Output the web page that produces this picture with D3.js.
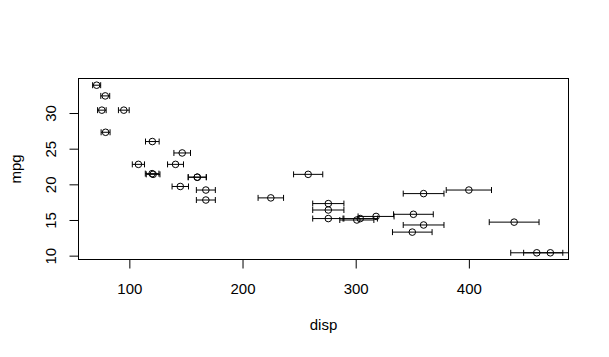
<!DOCTYPE html>
<html><head><meta charset="utf-8">
<script src="https://cdn.jsdelivr.net/npm/d3@7"></script>
<style>body{margin:0;background:#fff}svg{display:block}text{font-family:"Liberation Sans",Arial,sans-serif;font-size:15px;fill:#000}</style>
</head><body>
<script>
const disp = [160,160,108,258,360,225,360,146.7,140.8,167.6,167.6,275.8,275.8,275.8,472,460,440,78.7,75.7,71.1,120.1,318,304,350,400,79,120.3,95.1,351,145,301,121];
const mpg = [21.0,21.0,22.8,21.4,18.7,18.1,14.3,24.4,22.8,19.2,17.8,16.4,17.3,15.2,10.4,10.4,14.7,32.4,30.4,33.9,21.5,15.5,15.2,13.3,19.2,27.3,26.0,30.4,15.8,19.7,15.0,21.4];
const dispErr = [8,8,5.4,12.9,18,11.25,18,7.34,7.04,8.38,8.38,13.79,13.79,13.79,23.6,23,22,3.94,3.79,3.56,6.01,15.9,15.2,17.5,20,3.95,6.02,4.76,17.55,7.25,15.05,6.05];
const xTicks = [100,200,300,400];
const yTicks = [10,15,20,25,30];

const W = 609, H = 357;
const L = 78.5, R = 568.5, T = 78.5, B = 259.5;
const svg = d3.select("body").append("svg").attr("width", W).attr("height", H);

const xe = d3.extent(disp), ye = d3.extent(mpg);
const xp = 0.04 * (xe[1] - xe[0]), yp = 0.04 * (ye[1] - ye[0]);
const x = d3.scaleLinear().domain([xe[0] - xp, xe[1] + xp]).range([L, R]);
const y = d3.scaleLinear().domain([ye[0] - yp, ye[1] + yp]).range([B, T]);

svg.append("clipPath").attr("id", "clip").append("rect")
  .attr("x", L).attr("y", T).attr("width", R - L).attr("height", B - T);

const g = svg.append("g").attr("clip-path", "url(#clip)")
  .attr("stroke", "#000").attr("stroke-width", 1).attr("fill", "none");

const cap = 3;
disp.forEach((d, i) => {
  const cy = y(mpg[i]);
  const x0 = x(d - dispErr[i]), x1 = x(d + dispErr[i]);
  g.append("line").attr("x1", x0).attr("x2", x1).attr("y1", cy).attr("y2", cy);
  g.append("line").attr("x1", x0).attr("x2", x0).attr("y1", cy - cap).attr("y2", cy + cap);
  g.append("line").attr("x1", x1).attr("x2", x1).attr("y1", cy - cap).attr("y2", cy + cap);
});
svg.append("g").attr("stroke", "#000").attr("fill", "none")
  .selectAll("circle").data(disp).join("circle")
  .attr("cx", d => x(d)).attr("cy", (d, i) => y(mpg[i])).attr("r", 3.3);

svg.append("rect").attr("x", L).attr("y", T).attr("width", R - L).attr("height", B - T)
  .attr("fill", "none").attr("stroke", "#000");

const xAxis = d3.axisBottom(x).tickValues(xTicks).tickSize(9).tickPadding(0).tickFormat(d3.format("d"));
const gx = svg.append("g").attr("transform", `translate(0,${B})`).call(xAxis);
gx.select(".domain").attr("d", `M${x(xTicks[0])},0H${x(xTicks[xTicks.length-1])}`).attr("stroke", "#000");
gx.selectAll(".tick line").attr("stroke", "#000");
gx.selectAll(".tick text").attr("y", 34.5).attr("dy", null).style("font-size", "15px").attr("font-family", null);

const yAxis = d3.axisLeft(y).tickValues(yTicks).tickSize(9).tickFormat(d3.format("d"));
const gy = svg.append("g").attr("transform", `translate(${L},0)`).call(yAxis);
gy.select(".domain").attr("d", `M0,${y(yTicks[0])}V${y(yTicks[yTicks.length-1])}`).attr("stroke", "#000");
gy.selectAll(".tick line").attr("stroke", "#000");
gy.selectAll(".tick text")
  .attr("x", null).attr("dy", null).attr("text-anchor", "middle")
  .attr("transform", "translate(-22.5,0) rotate(-90)")
  .attr("y", 0).style("font-size", "15px").attr("font-family", null);

svg.append("text").attr("x", (L + R) / 2).attr("y", 330).attr("text-anchor", "middle").text("disp");
svg.append("text").attr("transform", `translate(21,${(T + B) / 2}) rotate(-90)`).attr("text-anchor", "middle").text("mpg");
</script>
</body></html>
